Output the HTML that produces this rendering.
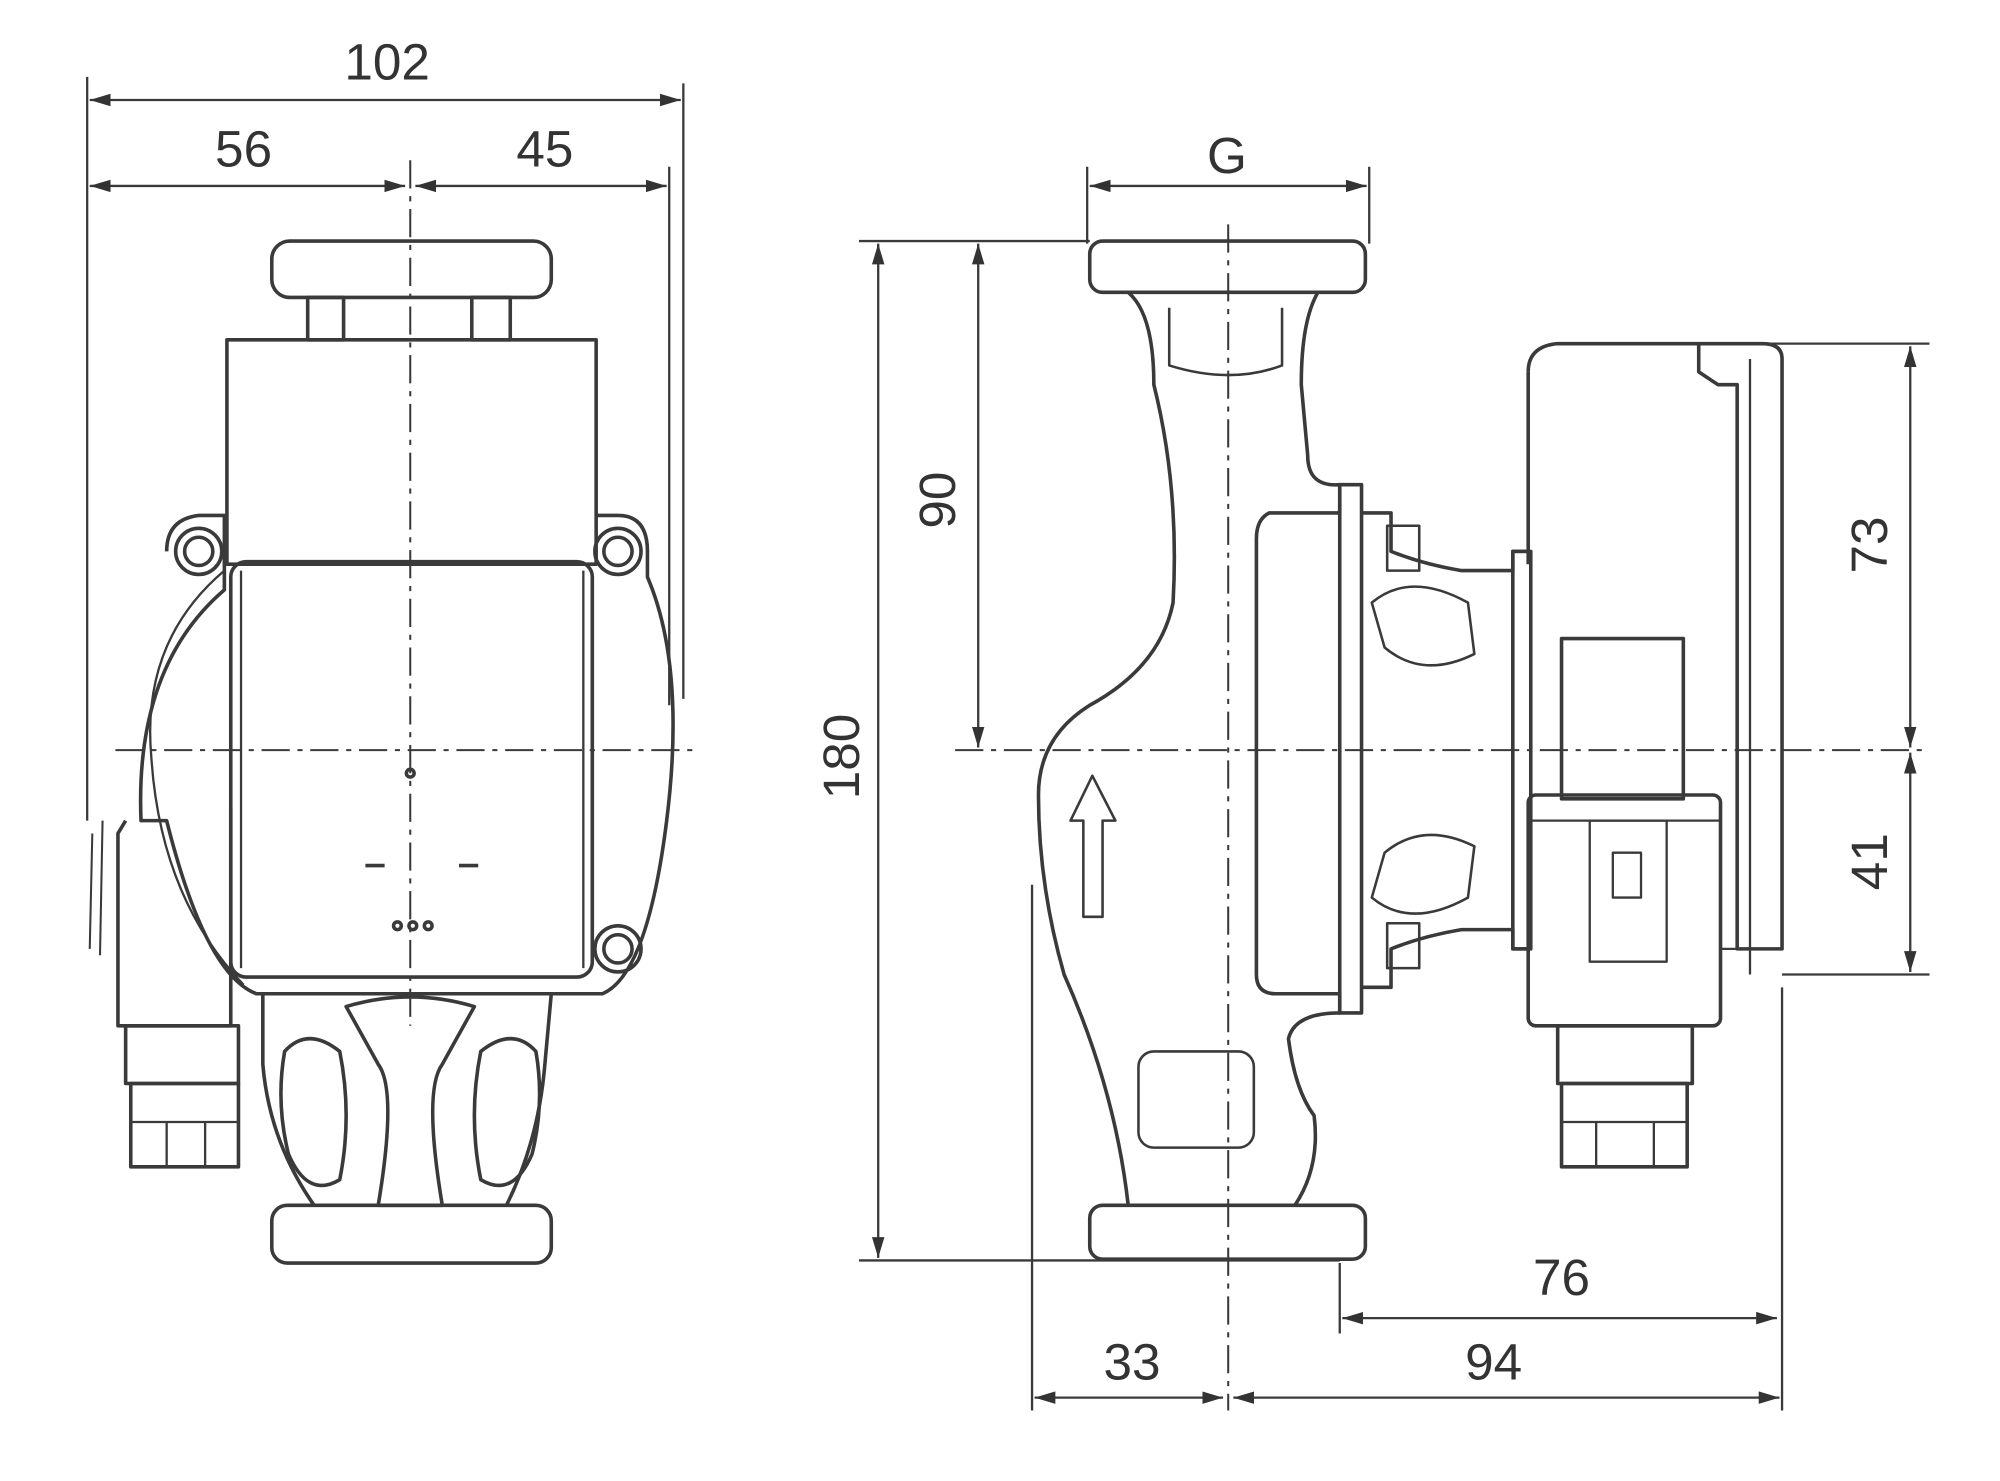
<!DOCTYPE html>
<html><head><meta charset="utf-8"><style>html,body{margin:0;padding:0;background:#fff}svg{display:block}</style></head>
<body>
<svg width="2000" height="1481" viewBox="0 0 1560 1155" preserveAspectRatio="none" xmlns="http://www.w3.org/2000/svg">
<defs>
<marker id="a" viewBox="0 0 10 10" refX="10" refY="5" markerWidth="9" markerHeight="9" orient="auto-start-reverse"><path d="M0,2 L10,5 L0,8 z" fill="#333"/></marker>
</defs>
<g fill="none" stroke="#3a3a3a" stroke-width="2.8" stroke-linejoin="round">
<line x1="68" y1="60" x2="68" y2="640" stroke-width="1.8"/>
<line x1="533" y1="65" x2="533" y2="545" stroke-width="1.8"/>
<line x1="522" y1="130" x2="522" y2="550" stroke-width="1.8"/>
<line x1="70" y1="78" x2="531" y2="78" stroke-width="1.8" marker-start="url(#a)" marker-end="url(#a)"/>
<line x1="70" y1="145" x2="316" y2="145" stroke-width="1.8" marker-start="url(#a)" marker-end="url(#a)"/>
<line x1="324" y1="145" x2="520" y2="145" stroke-width="1.8" marker-start="url(#a)" marker-end="url(#a)"/>
<line x1="320" y1="125" x2="320" y2="800" stroke-width="1.6" stroke-dasharray="22,6,4,6"/>
<line x1="90" y1="585" x2="545" y2="585" stroke-width="1.6" stroke-dasharray="22,6,4,6"/>
<rect x="212" y="188" width="218" height="44" rx="14"/>
<rect x="240" y="232" width="28" height="33"/><rect x="368" y="232" width="30" height="33"/>
<rect x="177" y="265" width="288" height="175"/>
<path d="M130,430 Q130,405 155,402 L175,402 L175,460 Q105,520 110,640 L130,640 Q160,760 200,775 L470,775 Q505,760 520,640 Q535,520 505,450 L505,430 Q505,402 482,402 L465,402"/>
<path d="M175,445 Q110,500 118,590 Q125,700 190,768" stroke-width="1.8"/>
<circle cx="155" cy="430" r="18"/><circle cx="155" cy="430" r="11"/>
<circle cx="482" cy="430" r="18"/><circle cx="482" cy="430" r="11"/>
<circle cx="482" cy="740" r="18"/><circle cx="482" cy="740" r="11"/>
<rect x="180" y="438" width="282" height="324" rx="12"/>
<line x1="455" y1="445" x2="455" y2="755" stroke-width="1.8"/>
<line x1="188" y1="445" x2="188" y2="755" stroke-width="1.8"/>
<line x1="285" y1="675" x2="300" y2="675"/><line x1="358" y1="675" x2="373" y2="675"/>
<circle cx="310" cy="722" r="3"/><circle cx="322" cy="722" r="3"/><circle cx="334" cy="722" r="3"/>
<circle cx="320" cy="603" r="3"/>
<path d="M98,640 L92,650 L92,800 L180,800 L180,630"/>
<rect x="98" y="800" width="88" height="45"/>
<rect x="102" y="845" width="84" height="65"/>
<line x1="102" y1="875" x2="186" y2="875" stroke-width="1.8"/>
<line x1="130" y1="875" x2="130" y2="910" stroke-width="1.8"/><line x1="160" y1="875" x2="160" y2="910" stroke-width="1.8"/>
<path d="M80,640 L78,745 M72,650 L70,740" stroke-width="1.6"/>
<path d="M205,775 L205,830 Q210,890 245,940 M430,775 L425,830 Q420,890 395,940"/>
<path d="M222,820 Q240,800 265,820 Q275,870 265,920 Q240,935 225,900 Q215,860 222,820 Z"/>
<path d="M375,820 Q400,800 418,820 Q425,860 415,900 Q400,935 375,920 Q365,870 375,820 Z"/>
<path d="M270,785 Q320,770 370,785 L345,830 Q330,850 345,940 L295,940 Q310,850 295,830 Z"/>
<rect x="212" y="940" width="218" height="45" rx="12"/>
<line x1="848" y1="130" x2="848" y2="190" stroke-width="1.8"/>
<line x1="1068" y1="130" x2="1068" y2="190" stroke-width="1.8"/>
<line x1="850" y1="145" x2="1066" y2="145" stroke-width="1.8" marker-start="url(#a)" marker-end="url(#a)"/>
<line x1="958" y1="175" x2="958" y2="1100" stroke-width="1.6" stroke-dasharray="22,6,4,6"/>
<line x1="745" y1="585" x2="1505" y2="585" stroke-width="1.6" stroke-dasharray="22,6,4,6"/>
<line x1="670" y1="188" x2="850" y2="188" stroke-width="1.8"/>
<line x1="670" y1="983" x2="1045" y2="983" stroke-width="1.8"/>
<line x1="685" y1="190" x2="685" y2="981" stroke-width="1.8" marker-start="url(#a)" marker-end="url(#a)"/>
<line x1="763" y1="190" x2="763" y2="583" stroke-width="1.8" marker-start="url(#a)" marker-end="url(#a)"/>
<line x1="1380" y1="268" x2="1505" y2="268" stroke-width="1.8"/>
<line x1="1390" y1="760" x2="1505" y2="760" stroke-width="1.8"/>
<line x1="1490" y1="270" x2="1490" y2="583" stroke-width="1.8" marker-start="url(#a)" marker-end="url(#a)"/>
<line x1="1490" y1="587" x2="1490" y2="758" stroke-width="1.8" marker-start="url(#a)" marker-end="url(#a)"/>
<line x1="805" y1="690" x2="805" y2="1100" stroke-width="1.8"/>
<line x1="1045" y1="985" x2="1045" y2="1040" stroke-width="1.8"/>
<line x1="1390" y1="770" x2="1390" y2="1100" stroke-width="1.8"/>
<line x1="1047" y1="1028" x2="1386" y2="1028" stroke-width="1.8" marker-start="url(#a)" marker-end="url(#a)"/>
<line x1="807" y1="1090" x2="954" y2="1090" stroke-width="1.8" marker-start="url(#a)" marker-end="url(#a)"/>
<line x1="962" y1="1090" x2="1388" y2="1090" stroke-width="1.8" marker-start="url(#a)" marker-end="url(#a)"/>
<rect x="850" y="188" width="215" height="40" rx="10"/>
<rect x="850" y="940" width="215" height="42" rx="10"/>
<path d="M880,228 Q900,245 900,300 Q920,380 915,470 Q905,520 850,550 Q810,575 810,620 Q810,690 830,760 Q870,850 880,940"/>
<path d="M1028,228 Q1015,250 1015,300 L1020,355 Q1020,380 1045,378 L1045,400 L990,400 Q980,405 980,420 L980,760 Q980,775 995,775 L1045,775 L1045,790 Q1010,790 1005,810 Q1010,850 1025,870 Q1030,910 1010,940"/>
<path d="M912,240 L912,285 Q960,300 1000,285 L1000,240" stroke-width="2"/>
<rect x="888" y="820" width="90" height="75" rx="12" stroke-width="2"/>
<path d="M845,715 L845,640 L835,640 L852,605 L870,640 L860,640 L860,715 Z" stroke-width="2"/>
<rect x="1045" y="378" width="17" height="412"/>
<path d="M1062,400 L1085,400 L1085,430 Q1110,440 1140,445 L1180,445 L1180,430 L1192,430"/>
<path d="M1062,770 L1085,770 L1085,740 Q1110,730 1140,725 L1180,725 L1180,740 L1192,740"/>
<path d="M1070,470 Q1100,445 1145,470 L1150,510 Q1110,530 1080,505 Z" stroke-width="2"/>
<path d="M1070,700 Q1100,725 1145,700 L1150,660 Q1110,640 1080,665 Z" stroke-width="2"/>
<rect x="1082" y="410" width="25" height="35" stroke-width="2"/>
<rect x="1082" y="720" width="25" height="35" stroke-width="2"/>
<rect x="1180" y="430" width="14" height="310"/>
<path d="M1192,290 Q1192,270 1215,268 L1325,268 L1325,290 L1340,300 L1355,300 L1355,740 L1390,740 L1390,280 Q1390,268 1375,268 L1325,268"/>
<line x1="1365" y1="280" x2="1365" y2="760" stroke-width="1.8"/>
<line x1="1192" y1="290" x2="1192" y2="440"/>
<rect x="1218" y="498" width="95" height="125"/>
<rect x="1192" y="620" width="150" height="180" rx="6"/>
<line x1="1192" y1="640" x2="1342" y2="640" stroke-width="1.8"/>
<rect x="1240" y="640" width="60" height="110" stroke-width="1.8"/>
<rect x="1258" y="665" width="22" height="35" stroke-width="1.8"/>
<rect x="1215" y="800" width="105" height="45"/>
<rect x="1218" y="845" width="98" height="65"/>
<line x1="1218" y1="875" x2="1316" y2="875" stroke-width="1.8"/>
<line x1="1245" y1="875" x2="1245" y2="910" stroke-width="1.8"/><line x1="1290" y1="875" x2="1290" y2="910" stroke-width="1.8"/>
<line x1="1342" y1="740" x2="1390" y2="740" stroke-width="1.8"/>
</g>
<g font-family="Liberation Sans, sans-serif" font-size="40" fill="#333" text-anchor="middle">
<text x="302" y="62">102</text>
<text x="190" y="130">56</text>
<text x="425" y="130">45</text>
<text x="957" y="135">G</text>
<text x="1218" y="1010">76</text>
<text x="1165" y="1076">94</text>
<text x="883" y="1076">33</text>
<text transform="translate(670,590) rotate(-90)">180</text>
<text transform="translate(745,390) rotate(-90)">90</text>
<text transform="translate(1472,425) rotate(-90)">73</text>
<text transform="translate(1472,672) rotate(-90)">41</text>
</g>
</svg>
</body></html>
